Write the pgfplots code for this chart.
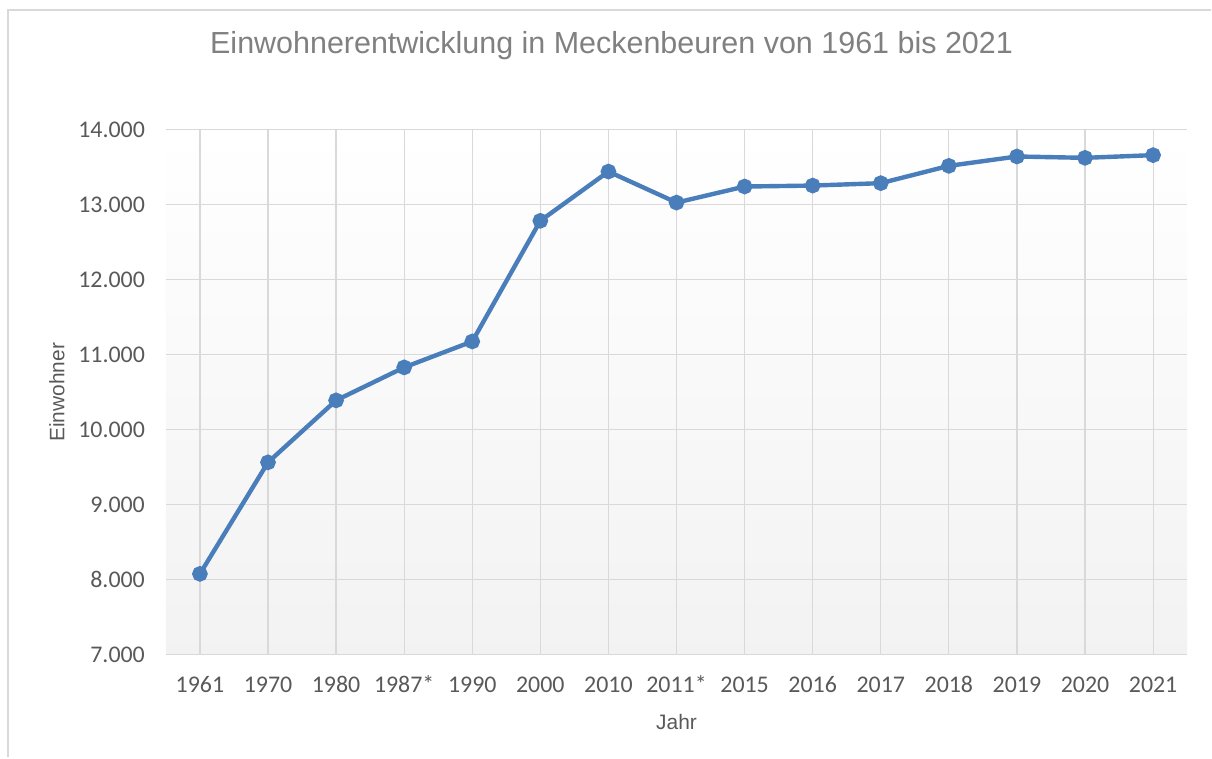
\documentclass[border=0pt]{standalone}
\usepackage{pgfplots}
\pgfplotsset{compat=1.18}
\usepackage{fontspec}
\setmainfont{Liberation Sans}
\newfontfamily\calib{Carlito}
\definecolor{linblue}{RGB}{74,126,187}
\definecolor{txtgray}{RGB}{89,89,89}
\definecolor{ttlgray}{RGB}{128,128,128}
\definecolor{gridgray}{RGB}{217,217,217}

\begin{document}
\begin{tikzpicture}[x=0.5bp,y=0.5bp]
% overall frame of the chart (pixel units, y from bottom)
\path (0,0) rectangle (1212,758);
\draw[gridgray,line width=0.9bp] (8,0) -- (8,748) -- (1212,748);
\node[font=\fontsize{15.3}{17}\selectfont,text=ttlgray] at (612,712) {Einwohnerentwicklung in Meckenbeuren von 1961 bis 2021};
\begin{axis}[at={(83bp,51.5bp)},anchor=south west,
  scale only axis,width=511bp,height=262.5bp,
  xmin=-0.5,xmax=14.5,ymin=7000,ymax=14000,
  xtick={0,...,14},
  xticklabels={1961,1970,1980,1987*,1990,2000,2010,2011*,2015,2016,2017,2018,2019,2020,2021},
  ytick={7000,8000,...,14000},
  scaled y ticks=false,
  /pgf/number format/fixed,
  /pgf/number format/1000 sep={.},
  /pgf/number format/assume math mode=true,
  grid=major,
  grid style={draw=gridgray,line width=0.6bp},
  major tick length=0pt,
  axis line style={draw=none},
  axis background/.style={shade,top color=white,bottom color=gray!10},
  tick label style={font=\calib\fontsize{12}{14}\selectfont,text=txtgray},
  yticklabel style={xshift=-7bp},
  xticklabel style={yshift=-7bp,text height=8.5bp,text depth=0pt},
  xlabel={Jahr},ylabel={Einwohner},
  label style={font=\fontsize{10.5}{12}\selectfont,text=txtgray},
  xlabel style={yshift=-4bp},
]
\addplot[color=linblue,line width=2.2bp,mark=*,mark size=2.8bp,mark options={fill=linblue,draw=linblue}] coordinates
  {(0,8076)(1,9564)(2,10391)(3,10831)(4,11177)(5,12787)(6,13444)
   (7,13030)(8,13244)(9,13257)(10,13289)(11,13520)(12,13645)(13,13627)(14,13663)};
\end{axis}
\end{tikzpicture}
\end{document}
